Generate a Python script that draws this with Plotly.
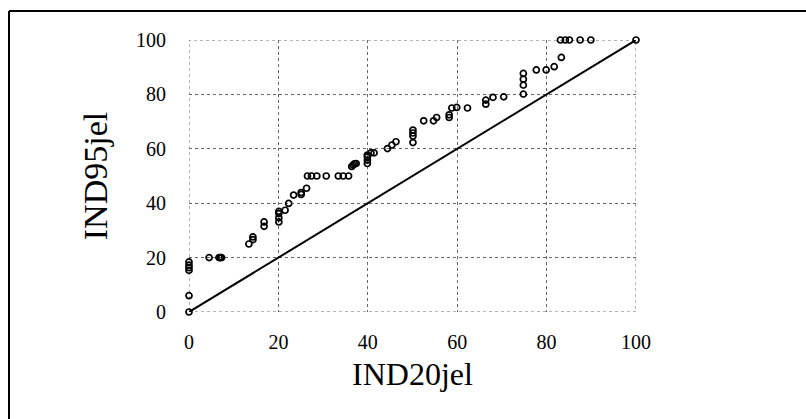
import plotly.graph_objects as go

# IND20jel (x) and IND95jel (y) values
ind20 = [0, 0, 0, 0, 0, 0, 4.5, 6.7, 7.0, 7.3,
         13.4, 14.3, 14.3, 16.8, 16.8, 20.1, 20.1, 20.1, 20.1, 21.5,
         22.3, 23.4, 25.1, 25.1, 26.3, 26.5, 27.4, 28.6, 30.7, 33.4,
         34.5, 35.7, 36.4, 36.7, 37.0, 37.4, 39.9, 39.9, 39.9, 39.9,
         40.7, 41.4, 44.4, 45.4, 46.3, 50.1, 50.1, 50.1, 50.1, 52.5,
         54.7, 55.4, 58.2, 58.2, 58.8, 59.9, 62.3, 66.4, 66.4, 68.0,
         70.4, 74.8, 74.8, 74.8, 74.8, 77.7, 79.9, 81.7, 83.3, 83.1,
         84.2, 85.1, 87.5, 89.9, 100]
ind95 = [0, 6, 15.3, 16.3, 17.2, 18.4, 20, 20, 20, 20,
         25.0, 26.6, 27.6, 31.5, 33.1, 33.1, 34.6, 36.2, 37.0, 37.4,
         39.9, 43.0, 43.2, 43.9, 45.5, 50, 50, 50, 50, 50,
         50, 50, 53.5, 54.0, 54.5, 54.6, 54.6, 55.8, 57.0, 57.7,
         58.5, 58.5, 60.1, 61.4, 62.6, 62.3, 64.7, 65.8, 66.9, 70.3,
         70.3, 71.5, 71.5, 72.5, 75.0, 75.2, 75, 76.4, 77.9, 78.9,
         79.1, 80.1, 83.4, 85.6, 87.7, 89, 89, 90.2, 93.6, 100,
         100, 100, 100, 100, 100]

diag_x = [0, 100]
diag_y = [0, 100]

tick_vals = [0, 20, 40, 60, 80, 100]

fig = go.Figure()
fig.add_trace(go.Scatter(
    x=diag_x, y=diag_y, mode="lines",
    line=dict(color="black", width=2), cliponaxis=False, showlegend=False))
fig.add_trace(go.Scatter(
    x=ind20, y=ind95, mode="markers",
    marker=dict(symbol="circle-open", size=6, color="black",
                line=dict(color="black", width=1.7)),
    cliponaxis=False, showlegend=False))

font_family = "Liberation Serif, Times New Roman, serif"
axis_common = dict(
    range=[0, 100], tickvals=tick_vals, showgrid=True,
    gridcolor="#666666", griddash="dot", gridwidth=1,
    zeroline=False, showline=False, ticks="",
    tickfont=dict(family=font_family, size=20, color="black"),
)

W, H = 806, 419
ml, mr, mt, mb = 189, 170, 40, 107
pw, ph = W - ml - mr, H - mt - mb

fig.update_layout(
    width=W, height=H,
    margin=dict(l=ml, r=mr, t=mt, b=mb),
    paper_bgcolor="white", plot_bgcolor="white",
    xaxis=dict(**axis_common,
               title=dict(text="IND20jel", standoff=10,
                          font=dict(family=font_family, size=32, color="black")),
               ticklabelstandoff=16),
    yaxis=dict(**axis_common,
               title=dict(text="IND95jel", standoff=18,
                          font=dict(family=font_family, size=34, color="black")),
               ticklabelstandoff=22),
    shapes=[
        # dotted border of the plotting area (edge gridlines)
        dict(type="rect", xref="x", yref="y", x0=0, x1=100, y0=0, y1=100,
             line=dict(color="#666666", width=1, dash="dot"), layer="below"),
        # outer frame (top and left edges)
        dict(type="line", xref="paper", yref="paper",
             x0=-180 / pw, x1=(W - ml) / pw, y0=1 + 29 / ph, y1=1 + 29 / ph,
             line=dict(color="black", width=2)),
        dict(type="line", xref="paper", yref="paper",
             x0=-180 / pw, x1=-180 / pw, y0=1 + 29 / ph, y1=-mb / ph,
             line=dict(color="black", width=2)),
    ],
)

fig.write_html(
    "out.html",
    config={"displayModeBar": False},
    post_script=("document.documentElement.style.overflow='hidden';"
                 "document.body.style.margin='0';"
                 "document.body.style.overflow='hidden';"),
)
